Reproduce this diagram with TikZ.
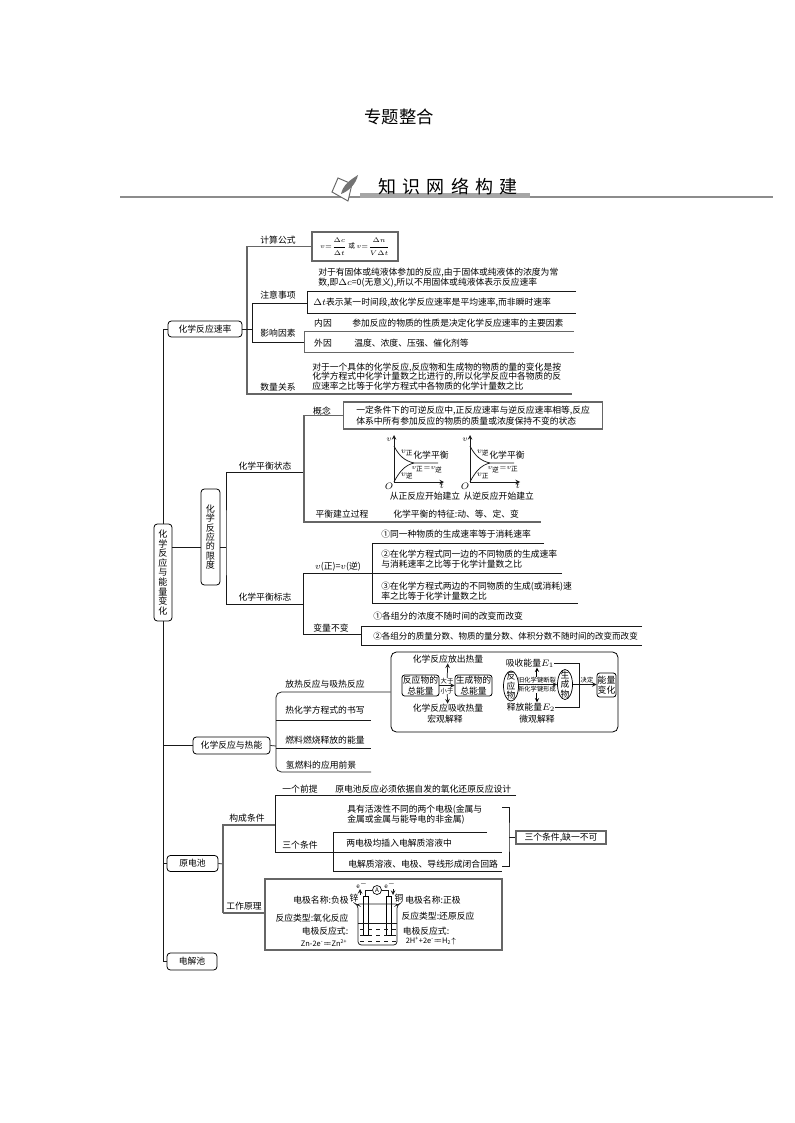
\documentclass[tikz,border=0pt]{standalone}
\usepackage{amsmath}
\usepackage{fontspec}
\setmainfont{Noto Sans CJK SC}
\newfontfamily\headfont[LetterSpace=34]{Noto Sans CJK SC}
\usetikzlibrary{shapes.geometric}
\tikzset{
    txt/.style={inner sep=0pt,font=\fontsize{6.6}{8}\selectfont},
    ltxt/.style={txt,anchor=west,align=left},
    ctxt/.style={inner sep=0pt,align=center,font=\fontsize{6.6}{7.2}\selectfont},
    smalltxt/.style={inner sep=0pt,font=\fontsize{4.7}{6}\selectfont},
    subtxt/.style={inner sep=0pt,font=\fontsize{6}{7}\selectfont},
    halftxt/.style={inner sep=0pt,font=\fontsize{5.6}{6}\selectfont},
    boxsize/.style 2 args={minimum width=#1*0.75pt,minimum height=#2*0.75pt},
    card/.style={txt,draw,align=center,rounded corners=2.5pt,line width=.6pt},
    graybox/.style={txt,draw=black!60,align=center,line width=.9pt},
    ln/.style={line width=.55pt,black!90},
    gln/.style={line width=.9pt,black!60},
}
\begin{document}
\begin{tikzpicture}[x=0.75pt,y=-0.75pt,>=stealth]
    \useasboundingbox (0,0) rectangle (794,1123);
    \node[inner sep=0pt,font=\fontsize{13}{15}\selectfont] (title) at (399,117) {专题整合};
    \coordinate (rule_l) at (120,197);
    \coordinate (rule_r) at (773,197);
    \draw[line width=1.4pt,black!45] (rule_l) -- (rule_r);
    \fill[black!35] (360,193) rectangle (530,198);
    \node[inner sep=0pt,font=\fontsize{13.5}{15}\headfont] (head) at (448,187) {知识网络构建};
    \draw[fill=white,draw=black!60,line width=.7pt] (332,192) -- (338,178) -- (352,184) -- (348,201) -- cycle;
    \fill[black!55] (341,194) .. controls (343,185) and (350,180) .. (358,175) .. controls (356,184) and (349,191) .. (341,194);

    \node[card,boxsize={18}{97},font=\fontsize{6.8}{7.2}\selectfont] (root) at (163,572.5) {化\\学\\反\\应\\与\\能\\量\\变\\化};
    \node[card,boxsize={19}{96},font=\fontsize{6.8}{7}\selectfont] (limit) at (210.5,537) {化\\学\\反\\应\\的\\限\\度};
    \node[card,boxsize={74}{16}] (rate) at (205,329) {化学反应速率};
    \node[card,boxsize={77}{17}] (thermal) at (231.5,745.5) {化学反应与热能};
    \node[card,boxsize={51}{16}] (cell) at (192.5,863.5) {原电池};
    \node[card,boxsize={50}{17}] (elec) at (192,961.5) {电解池};
    \draw[ln] (rate.west) -| (root.north);
    \draw[ln] (root.south) |- (elec.west);
    \draw[ln] (root.south |- thermal.west) -- (thermal.west);
    \draw[ln] (root.south |- cell.west) -- (cell.west);

    \node[graybox,boxsize={86}{29},font=\fontsize{5}{6}\selectfont] (calc) at (355,246.5) {$v{=}\dfrac{\Delta c}{\Delta t}$ 或 $v{=}\dfrac{\Delta n}{V\Delta t}$};
    \coordinate (rate_b) at (247,394);
    \coordinate (rate_e) at (572,394);
    \draw[gln] (calc.west) -| (rate_b) -- (rate_e);
    \coordinate (rate_j) at (252,329);
    \coordinate (note_l) at (307,303);
    \coordinate (note_tl) at (307,291);
    \coordinate (note_tr) at (576,291);
    \coordinate (note_bl) at (307,313);
    \coordinate (note_br) at (576,313);
    \coordinate (fact_l) at (304,342);
    \coordinate (fact_tl) at (304,331);
    \coordinate (fact_tr) at (574,331);
    \coordinate (fact_bl) at (304,352);
    \coordinate (fact_br) at (574,352);
    \draw[ln] (rate.east) -- (rate_j);
    \draw[ln] (note_l) -- (rate_j |- note_l) -- (rate_j |- fact_l) -- (fact_l);
    \draw[ln] (note_tr) -- (note_tl) -- (note_bl) -- (note_br);
    \draw[gln,line width=.7pt] (fact_tr) -- (fact_tl) -- (fact_bl) -- (fact_br);
    \node[txt] (calc_t) at (278,240) {计算公式};
    \node[txt] (note_t) at (278,295) {注意事项};
    \node[txt] (fact_t) at (278,333) {影响因素};
    \node[txt] (amount_t) at (278,387) {数量关系};
    \node[ltxt] (note_a) at (318,277.5) {对于有固体或纯液体参加的反应,由于固体或纯液体的浓度为常\\数,即$\Delta c$=0(无意义),所以不用固体或纯液体表示反应速率};
    \node[ltxt] (note_b) at (313,303) {$\Delta t$表示某一时间段,故化学反应速率是平均速率,而非瞬时速率};
    \node[txt] (fact_a) at (323,323) {内因};
    \node[ltxt] (fact_b) at (352,323) {参加反应的物质的性质是决定化学反应速率的主要因素};
    \node[txt] (fact_c) at (323,343) {外因};
    \node[ltxt] (fact_d) at (354,343) {温度、浓度、压强、催化剂等};
    \node[ltxt,font=\fontsize{6.6}{7.2}\selectfont] (amount) at (312,376.5) {对于一个具体的化学反应,反应物和生成物的物质的量的变化是按\\化学方程式中化学计量数之比进行的,所以化学反应中各物质的反\\应速率之比等于化学方程式中各物质的化学计量数之比};

    \coordinate (limit_j) at (226,547);
    \draw[ln] (root.east |- limit_j) -- (limit.west |- limit_j);
    \draw[ln] (limit.east |- limit_j) -- (limit_j);
    \coordinate (state_j) at (304,472);
    \coordinate (sign_j) at (304,604);
    \draw[ln] (state_j) -| (limit_j) |- (sign_j);
    \node[txt] (state_t) at (265,466) {化学平衡状态};
    \node[txt] (sign_t) at (265,597) {化学平衡标志};
    \node[graybox,boxsize={259}{27},anchor=west,inner xsep=8.2pt,align=left,font=\fontsize{6.6}{7.8}\selectfont] (concept) at (343,415.5) {一定条件下的可逆反应中,正反应速率与逆反应速率相等,反应\\体系中所有参加反应的物质的质量或浓度保持不变的状态};
    \node[txt] (concept_t) at (322,411) {概念};
    \coordinate (state_b) at (304,522);
    \coordinate (state_e) at (541,522);
    \draw[gln] (concept.west) -- (concept.west -| state_j) -- (state_b) -- (state_e);
    \node[txt] (build_t) at (342,514) {平衡建立过程};
    \node[ltxt] (feature) at (393,514) {化学平衡的特征:动、等、定、变};
    \foreach \dx/\n/\a/\b/\c in {0/a/正/逆/从正反应开始建立,76/b/逆/正/从逆反应开始建立} {
        \coordinate (o_\n) at (394+\dx,482);
        \coordinate (top_\n) at (394+\dx,435);
        \coordinate (right_\n) at (444+\dx,482);
        \coordinate (p_\n) at (394+\dx,446);
        \coordinate (m_\n) at (414+\dx,463);
        \coordinate (e_\n) at (438+\dx,463);
        \draw[ln,->] (o_\n) -- (top_\n);
        \draw[ln,->] (o_\n) -- (right_\n);
        \draw[ln] (p_\n) .. controls (399+\dx,456) and (405+\dx,461) .. (m_\n) -- (e_\n);
        \draw[ln] (o_\n) .. controls (399+\dx,472) and (405+\dx,465) .. (m_\n);
        \node[subtxt] (v_\n) at (389+\dx,440) {$v$};
        \node[inner sep=0pt,font=\fontsize{7}{8}\selectfont] (zero_\n) at (389+\dx,486) {$O$};
        \node[inner sep=0pt,font=\fontsize{7}{8}\selectfont] (t_\n) at (442+\dx,486) {$t$};
        \node[subtxt] (va_\n) at (407+\dx,453) {$v_{\text{\a}}$};
        \node[subtxt] (vb_\n) at (407+\dx,476) {$v_{\text{\b}}$};
        \node[txt] (eq_\n) at (431+\dx,455) {化学平衡};
        \node[inner sep=0pt,font=\fontsize{5}{6}\selectfont] (vv_\n) at (427+\dx,469.5) {$v_{\text{\a}}{=}v_{\text{\b}}$};
        \node[txt] (from_\n) at (425+\dx*0.97,496) {\c};
    }

    \coordinate (rev_l) at (303,573);
    \coordinate (rev_r) at (562,573);
    \coordinate (var_l) at (361,634);
    \draw[ln] (rev_r) -- (rev_l) |- (var_l);
    \node[txt] (rev_t) at (338,567) {$v$(正)=$v$(逆)};
    \node[txt] (var_t) at (331,628) {变量不变};
    \coordinate (rev_tr) at (544,543);
    \coordinate (rev_br) at (578,603);
    \draw[ln] (rev_tr) -| (372,603) -- (rev_br);
    \node[ltxt] (rev_a) at (381,534) {①同一种物质的生成速率等于消耗速率};
    \node[ltxt] (rev_b) at (381,559) {②在化学方程式同一边的不同物质的生成速率\\与消耗速率之比等于化学计量数之比};
    \node[ltxt] (rev_c) at (381,591) {③在化学方程式两边的不同物质的生成(或消耗)速\\率之比等于化学计量数之比};
    \coordinate (var_tr) at (642,626);
    \coordinate (var_br) at (642,645);
    \draw[ln] (var_tr) -| (361,645) -- (var_br);
    \node[ltxt] (var_a) at (373,616) {①各组分的浓度不随时间的改变而改变};
    \node[ltxt,font=\fontsize{6.4}{8}\selectfont] (var_b) at (373,636) {②各组分的质量分数、物质的量分数、体积分数不随时间的改变而改变};

    \node[draw,line width=.6pt,rounded corners=4pt,minimum width=227*0.75pt,minimum height=80*0.75pt,inner sep=0pt] (heat) at (504.5,692) {};
    \coordinate (heat_j) at (276,746);
    \coordinate (fuel_r) at (371,720);
    \coordinate (burn_r) at (371,748);
    \coordinate (hydro_r) at (371,772);
    \draw[ln] (thermal.east) -- (heat_j);
    \draw[ln,rounded corners=4pt] (heat.west) -| (heat_j) |- (hydro_r);
    \draw[ln] (heat_j |- fuel_r) -- (fuel_r);
    \draw[ln] (heat_j |- burn_r) -- (burn_r);
    \node[txt] (heat_a) at (325,684) {放热反应与吸热反应};
    \node[txt] (heat_b) at (325,710) {热化学方程式的书写};
    \node[txt] (heat_c) at (325,740) {燃料燃烧释放的能量};
    \node[txt] (heat_d) at (321,765) {氢燃料的应用前景};
    \node[card,boxsize={37}{21},rounded corners=2pt] (react) at (420.5,685.5) {反应物的\\总能量};
    \node[card,boxsize={37}{21},rounded corners=2pt] (prod) at (473.5,685.5) {生成物的\\总能量};
    \draw[ln,->] (react) -- (prod);
    \node[smalltxt] (more) at (447,681) {大于};
    \node[smalltxt] (less) at (447,691) {小于};
    \node[txt] (exo) at (448,659) {化学反应放出热量};
    \node[txt] (endo) at (448,708) {化学反应吸收热量};
    \node[txt] (macro) at (445,719) {宏观解释};
    \draw[ln,->] (more) -- (exo);
    \draw[ln,->] (less) -- (endo);
    \node[txt] (absorb) at (530,663) {吸收能量$E_1$};
    \node[txt] (release) at (531,707) {释放能量$E_2$};
    \node[txt] (micro) at (537,719) {微观解释};
    \node[draw,ellipse,line width=.55pt,inner sep=0pt,boxsize={15}{30}] (react_e) at (511,686) {};
    \node[draw,ellipse,line width=.55pt,inner sep=0pt,boxsize={15}{30}] (prod_e) at (565,684.5) {};
    \node[ctxt] (react_t) at (react_e) {反\\应\\物};
    \node[ctxt] (prod_t) at (prod_e) {生\\成\\物};
    \draw[ln,->] (react_e.east |- prod_e) -- (prod_e.west);
    \node[smalltxt] (break) at (537,680) {旧化学键断裂};
    \node[smalltxt] (form) at (537,689.5) {新化学键形成};
    \draw[line width=.3pt,double,double distance=.5pt,->] (break) -- (break |- absorb.south);
    \draw[line width=.3pt,double,double distance=.5pt,->] (form) -- (form |- release.north);
    \node[card,boxsize={19}{24},rounded corners=2pt] (change) at (606.5,685) {能量\\变化};
    \draw[ln,->] (prod_e.east) -- (change.west |- prod_e);
    \node[smalltxt] (decide) at (587,680) {决定};
    \coordinate (join) at (579,685);
    \draw[ln] (absorb.east) -| (join);
    \draw[ln] (release.east) -| (join);

    \coordinate (cell_j) at (223,864);
    \coordinate (work_j) at (223,913);
    \coordinate (form_j) at (275,825);
    \draw[ln] (cell.east) -- (cell_j);
    \draw[gln] (form_j) -| (work_j);
    \node[txt] (form_t) at (247,818) {构成条件};
    \coordinate (pre_r) at (516,795);
    \coordinate (three_l) at (275,852);
    \coordinate (three_r) at (502,852);
    \draw[ln] (pre_r) -| (three_l) -- (three_r);
    \node[txt] (pre_t) at (300,789) {一个前提};
    \node[ltxt] (pre) at (335,789) {原电池反应必须依据自发的氧化还原反应设计};
    \node[txt] (three_t) at (300,845) {三个条件};
    \node[ltxt] (cond_a) at (347,814.5) {具有活泼性不同的两个电极(金属与\\金属或金属与能导电的非金属)};
    \node[ltxt] (cond_b) at (346,843) {两电极均插入电解质溶液中};
    \node[ltxt] (cond_c) at (348,864) {电解质溶液、电极、导线形成闭合回路};
    \coordinate (cond_tr) at (487,832);
    \coordinate (cond_br) at (502,871);
    \draw[ln] (cond_tr) -| (333,871) -- (cond_br);
    \node[graybox,boxsize={90}{13}] (all) at (561,837.5) {三个条件,缺一不可};
    \coordinate (brace_j) at (509,837.5);
    \coordinate (brace_t) at (502,807);
    \coordinate (brace_b) at (502,866);
    \draw[ln] (brace_t) -| (brace_j) |- (brace_b);
    \draw[ln] (brace_j) -- (all.west);

    \node[graybox,boxsize={237}{71}] (work) at (383.5,914.5) {};
    \draw[gln] (work_j) -- (work.west |- work_j);
    \node[txt] (work_t) at (244,906) {工作原理};
    \node[txt] (name_a) at (321,900) {电极名称:负极};
    \node[txt] (name_b) at (433,900) {电极名称:正极};
    \node[txt] (zn) at (354,898) {锌};
    \node[txt] (cu) at (399,898) {铜};
    \node[txt] (kind_a) at (312,918) {反应类型:氧化反应};
    \node[txt] (kind_b) at (438,916) {反应类型:还原反应};
    \node[txt] (eqn_a) at (325,931) {电极反应式:};
    \node[txt] (eqn_b) at (426,931) {电极反应式:};
    \node[halftxt] (half_a) at (324,943) {Zn-2e\textsuperscript{-}\kern.5pt=\kern-1pt=\kern.5pt Zn\textsuperscript{2+}};
    \node[halftxt] (half_b) at (431,941) {2H\textsuperscript{+}+2e\textsuperscript{-}\kern.5pt=\kern-1pt=\kern.5pt H\textsubscript{2}$\uparrow$};
    \node[draw,circle,line width=.5pt,inner sep=0pt,minimum size=9*0.75pt,font=\fontsize{4.7}{5}\selectfont] (meter) at (377,890) {A};
    \node[draw,line width=.5pt,inner sep=0pt,minimum width=5*0.75pt,minimum height=39*0.75pt] (rod_a) at (365.5,915.5) {};
    \node[draw,line width=.5pt,inner sep=0pt,minimum width=5*0.75pt,minimum height=39*0.75pt] (rod_b) at (388.5,915.5) {};
    \draw[ln] (meter.west) -| (rod_a.north);
    \draw[ln] (meter.east) -| (rod_b.north);
    \draw[ln,rounded corners=2.5pt] (356,904) -- (358,905) -- (358,945) -- (397,945) -- (397,905) -- (399,904) -- cycle;
    \draw[ln] (358,923) -- (397,923);
    \foreach \y in {929,935,941} {
        \draw[ln,dashed,line width=.4pt] (360,\y) -- (396,\y);
    }
    \node[smalltxt] (e_a) at (362,885) {$\mathrm{e}^-$};
    \node[smalltxt] (e_b) at (390,885) {$\mathrm{e}^-$};
    \draw[ln,->] (360,895) -- (360,889);
    \draw[ln,->] (393,889) -- (393,895);
\end{tikzpicture}
\end{document}
